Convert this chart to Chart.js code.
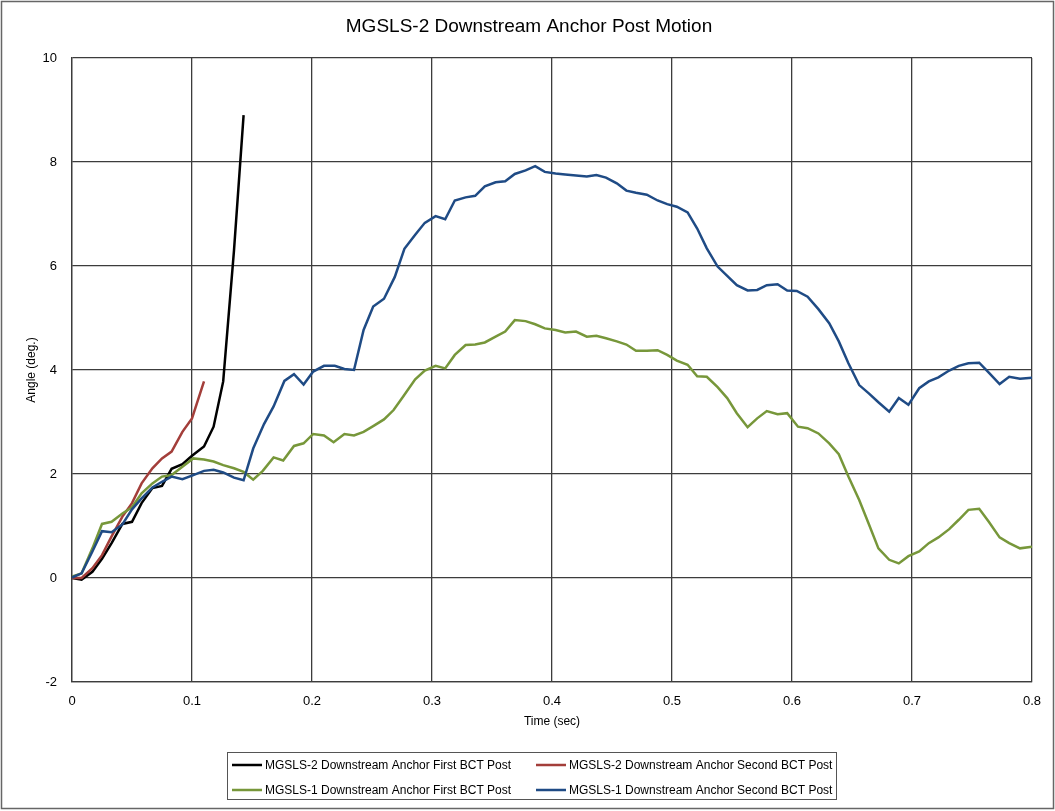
<!DOCTYPE html>
<html>
<head>
<meta charset="utf-8">
<title>MGSLS-2 Downstream Anchor Post Motion</title>
<script src="https://cdn.jsdelivr.net/npm/chart.js@4/dist/chart.umd.min.js"></script>
<style>
html, body { margin: 0; padding: 0; background: #fff; }
#wrap { width: 1055px; height: 811px; }
</style>
</head>
<body>
<div id="wrap"><canvas id="motionChart" width="1055" height="811"></canvas></div>
<script>
// time (sec) and angle (deg.)
var mgsls2FirstTime = [0, 0.008, 0.017, 0.025, 0.033, 0.042, 0.05, 0.058, 0.067, 0.075, 0.083, 0.092, 0.1, 0.11, 0.118, 0.126, 0.135, 0.143];
var mgsls2FirstAngle = [0, -0.03, 0.12, 0.37, 0.67, 1.04, 1.08, 1.44, 1.73, 1.77, 2.1, 2.19, 2.35, 2.53, 2.91, 3.78, 6.3, 8.9];

var mgsls2SecondTime = [0, 0.008, 0.017, 0.025, 0.033, 0.042, 0.05, 0.058, 0.067, 0.075, 0.083, 0.092, 0.1, 0.11];
var mgsls2SecondAngle = [0, 0, 0.19, 0.44, 0.8, 1.18, 1.44, 1.82, 2.11, 2.3, 2.43, 2.81, 3.07, 3.78];

var mgsls1FirstTime = [0, 0.008, 0.017, 0.025, 0.033, 0.042, 0.05, 0.058, 0.067, 0.075, 0.083, 0.092,
    0.101, 0.11, 0.118, 0.126, 0.135, 0.143, 0.151, 0.159, 0.168, 0.176, 0.185, 0.193,
    0.201, 0.21, 0.218, 0.227, 0.235, 0.243, 0.251, 0.26, 0.268, 0.276, 0.286, 0.294,
    0.303, 0.311, 0.319, 0.328, 0.336, 0.344, 0.353, 0.361, 0.369, 0.378, 0.386, 0.394,
    0.403, 0.411, 0.42, 0.429, 0.437, 0.445, 0.454, 0.462, 0.47, 0.479, 0.488, 0.496,
    0.504, 0.513, 0.521, 0.529, 0.538, 0.546, 0.554, 0.563, 0.571, 0.579, 0.588, 0.596,
    0.605, 0.613, 0.622, 0.631, 0.639, 0.647, 0.656, 0.664, 0.672, 0.681, 0.689, 0.697,
    0.706, 0.714, 0.722, 0.731, 0.739, 0.747, 0.756, 0.764, 0.773, 0.781, 0.79, 0.8];
var mgsls1FirstAngle = [0.03, 0.09, 0.57, 1.04, 1.08, 1.24, 1.36, 1.63, 1.82, 1.95, 1.98, 2.14,
    2.3, 2.28, 2.24, 2.17, 2.11, 2.04, 1.89, 2.06, 2.32, 2.26, 2.54, 2.59,
    2.77, 2.74, 2.61, 2.77, 2.74, 2.81, 2.92, 3.05, 3.23, 3.49, 3.82, 3.99,
    4.08, 4.03, 4.29, 4.48, 4.49, 4.53, 4.64, 4.74, 4.96, 4.94, 4.88, 4.8,
    4.77, 4.72, 4.74, 4.64, 4.66, 4.61, 4.55, 4.49, 4.37, 4.37, 4.38, 4.29,
    4.18, 4.1, 3.88, 3.87, 3.67, 3.46, 3.17, 2.9, 3.07, 3.21, 3.15, 3.17,
    2.91, 2.88, 2.78, 2.59, 2.38, 1.95, 1.5, 1.04, 0.57, 0.35, 0.28, 0.42,
    0.51, 0.67, 0.78, 0.94, 1.12, 1.31, 1.33, 1.08, 0.78, 0.67, 0.57, 0.6];

var mgsls1SecondTime = [0, 0.008, 0.017, 0.025, 0.033, 0.042, 0.05, 0.058, 0.067, 0.075, 0.083, 0.092,
    0.1, 0.11, 0.118, 0.126, 0.135, 0.143, 0.151, 0.16, 0.168, 0.177, 0.185, 0.193,
    0.201, 0.21, 0.219, 0.227, 0.235, 0.243, 0.251, 0.26, 0.269, 0.277, 0.286, 0.294,
    0.303, 0.311, 0.319, 0.328, 0.336, 0.344, 0.353, 0.361, 0.369, 0.378, 0.386, 0.394,
    0.403, 0.411, 0.42, 0.429, 0.437, 0.445, 0.454, 0.462, 0.47, 0.479, 0.488, 0.496,
    0.504, 0.513, 0.521, 0.529, 0.538, 0.546, 0.554, 0.563, 0.571, 0.579, 0.588, 0.596,
    0.604, 0.613, 0.622, 0.631, 0.639, 0.647, 0.656, 0.664, 0.672, 0.681, 0.689, 0.697,
    0.706, 0.714, 0.722, 0.731, 0.739, 0.747, 0.756, 0.764, 0.773, 0.781, 0.79, 0.8];
var mgsls1SecondAngle = [0.01, 0.09, 0.51, 0.9, 0.88, 1.03, 1.32, 1.53, 1.74, 1.85, 1.95, 1.9,
    1.97, 2.06, 2.08, 2.03, 1.93, 1.88, 2.49, 2.96, 3.3, 3.79, 3.92, 3.72,
    3.97, 4.08, 4.08, 4.02, 4.0, 4.77, 5.22, 5.37, 5.79, 6.33, 6.6, 6.83,
    6.96, 6.9, 7.26, 7.32, 7.35, 7.53, 7.61, 7.63, 7.77, 7.84, 7.92, 7.81,
    7.78, 7.76, 7.74, 7.72, 7.75, 7.7, 7.59, 7.45, 7.41, 7.37, 7.26, 7.19,
    7.14, 7.03, 6.72, 6.34, 5.99, 5.81, 5.63, 5.53, 5.54, 5.63, 5.65, 5.53,
    5.52, 5.41, 5.17, 4.9, 4.55, 4.13, 3.71, 3.55, 3.38, 3.2, 3.46, 3.33,
    3.65, 3.78, 3.86, 3.99, 4.08, 4.13, 4.14, 3.95, 3.73, 3.87, 3.83, 3.85];

var seriesLabels = [
    'MGSLS-2 Downstream Anchor First BCT Post',
    'MGSLS-2 Downstream Anchor Second BCT Post',
    'MGSLS-1 Downstream Anchor First BCT Post',
    'MGSLS-1 Downstream Anchor Second BCT Post'
];
var seriesColors = ['#000000', '#A33E3A', '#77973A', '#1F4B85'];

var xTicks = [0, 0.1, 0.2, 0.3, 0.4, 0.5, 0.6, 0.7, 0.8];
var yTicks = [-2, 0, 2, 4, 6, 8, 10];

var FONT = '"Liberation Sans", Arial, sans-serif';

function toPoints(times, angles) {
    return times.map(function (t, i) { return { x: t, y: angles[i] }; });
}

var chartDecor = {
    id: 'chartDecor',
    afterDraw: function (chart) {
        var ctx = chart.ctx;
        var area = chart.chartArea;
        ctx.save();

        // title
        ctx.fillStyle = '#000';
        ctx.font = '19px ' + FONT;
        ctx.textAlign = 'center';
        ctx.textBaseline = 'middle';
        ctx.fillText('MGSLS-2 Downstream Anchor Post Motion', 529, 27);

        // axis titles
        ctx.font = '12px ' + FONT;
        ctx.fillText('Time (sec)', (area.left + area.right) / 2, 722);
        ctx.save();
        ctx.translate(32, (area.top + area.bottom) / 2);
        ctx.rotate(-Math.PI / 2);
        ctx.fillText('Angle (deg.)', 0, 0);
        ctx.restore();

        // legend box
        ctx.strokeStyle = '#555';
        ctx.lineWidth = 1;
        ctx.strokeRect(227.5, 752.5, 609, 47);
        var cols = [232, 536];
        var rows = [765, 790];
        ctx.font = '12px ' + FONT;
        ctx.textAlign = 'left';
        chart.data.datasets.forEach(function (ds, i) {
            var cx = cols[i % 2];
            var cy = rows[Math.floor(i / 2)];
            ctx.strokeStyle = ds.borderColor;
            ctx.lineWidth = 2.5;
            ctx.beginPath();
            ctx.moveTo(cx, cy);
            ctx.lineTo(cx + 30, cy);
            ctx.stroke();
            ctx.fillStyle = '#000';
            ctx.fillText(ds.label, cx + 33, cy + 1);
        });

        // outer frame
        ctx.strokeStyle = '#666';
        ctx.lineWidth = 1.5;
        ctx.strokeRect(1.5, 1.5, 1052, 807);
        ctx.restore();
    }
};

var datasets = [
    toPoints(mgsls2FirstTime, mgsls2FirstAngle),
    toPoints(mgsls2SecondTime, mgsls2SecondAngle),
    toPoints(mgsls1FirstTime, mgsls1FirstAngle),
    toPoints(mgsls1SecondTime, mgsls1SecondAngle)
].map(function (pts, i) {
    return {
        label: seriesLabels[i],
        data: pts,
        borderColor: seriesColors[i],
        backgroundColor: seriesColors[i],
        borderWidth: 2.5,
        pointRadius: 0,
        tension: 0,
        fill: false,
        order: 3 - i
    };
});

var ctx = document.getElementById('motionChart').getContext('2d');
var motionChart = new Chart(ctx, {
    type: 'line',
    data: { datasets: datasets },
    options: {
        responsive: false,
        animation: false,
        devicePixelRatio: 1,
        layout: { padding: { left: 0, right: 23, top: 58, bottom: 89 } },
        plugins: {
            legend: { display: false },
            title: { display: false },
            tooltip: { enabled: false }
        },
        scales: {
            x: {
                type: 'linear',
                min: 0,
                max: 0.8,
                afterFit: function (scale) { scale.height = 40; },
                afterBuildTicks: function (scale) {
                    scale.ticks = xTicks.map(function (v) { return { value: v }; });
                },
                ticks: {
                    color: '#000',
                    font: { size: 13, family: FONT },
                    padding: 12,
                    maxRotation: 0,
                    callback: function (v) { return String(Math.round(v * 10) / 10); }
                },
                grid: { color: '#3c3c3c', lineWidth: 1.3, drawTicks: false },
                border: { color: '#3c3c3c', width: 1.3 }
            },
            y: {
                min: -2,
                max: 10,
                afterFit: function (scale) { scale.width = 72; },
                afterBuildTicks: function (scale) {
                    scale.ticks = yTicks.map(function (v) { return { value: v }; });
                },
                ticks: {
                    color: '#000',
                    font: { size: 13, family: FONT },
                    padding: 15
                },
                grid: { color: '#3c3c3c', lineWidth: 1.3, drawTicks: false },
                border: { color: '#3c3c3c', width: 1.3 }
            }
        }
    },
    plugins: [chartDecor]
});
</script>
</body>
</html>
